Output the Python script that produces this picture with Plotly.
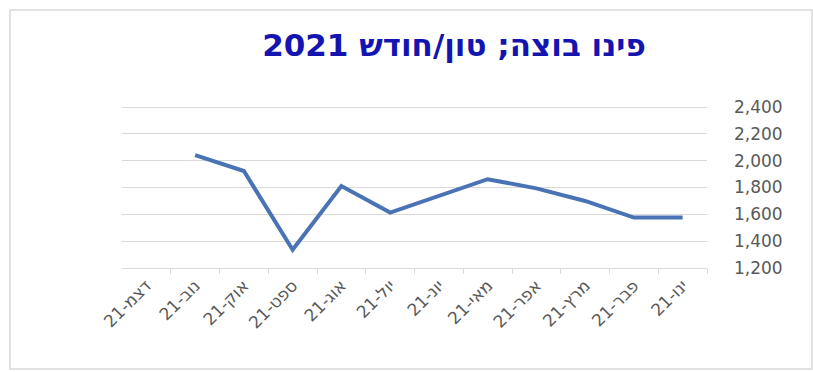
import plotly.graph_objects as go

# Monthly sludge removal, tonnes per month, 2021
months = ["ינו-21", "פבר-21", "מרץ-21", "אפר-21", "מאי-21", "יונ-21",
          "יול-21", "אוג-21", "ספט-21", "אוק-21", "נוב-21", "דצמ-21"]
tonnes = [1576, 1576, 1700, 1794, 1862, 1735, 1613, 1811, 1336, 1923, 2041, None]
y_ticks = [1200, 1400, 1600, 1800, 2000, 2200, 2400]

W, H = 813, 372
L, R, T, B = 122, 106, 106, 104
pw, ph = W - L - R, H - T - B


def px_x(p):
    return (p - L) / pw


def px_y(p):
    return (H - B - p) / ph


fig = go.Figure()
fig.add_trace(go.Scatter(
    x=months, y=tonnes, mode="lines",
    line=dict(color="#4A73B5", width=4),
    connectgaps=False, showlegend=False, hoverinfo="x+y",
))

fig.update_layout(
    width=W, height=H,
    margin=dict(l=L, r=R, t=T, b=B),
    paper_bgcolor="white", plot_bgcolor="white",
    title=dict(
        text="פינו בוצה; טון/חודש 2021",
        x=454 / W, xanchor="center", y=1 - 45 / H, yanchor="middle",
        font=dict(family="DejaVu Sans, sans-serif", size=31,
                  color="#1414B0", weight="bold"),
    ),
    xaxis=dict(
        type="category", range=[11.5, -0.5],
        showgrid=False, showline=True, linecolor="#D9D9D9", linewidth=1,
        ticks="outside", tickson="boundaries", ticklen=5, tickcolor="#D9D9D9",
        tickangle=-45,
        tickfont=dict(family="DejaVu Sans, sans-serif", size=17, color="#595959"),
    ),
    yaxis=dict(
        side="right", range=[1200, 2408], tickvals=y_ticks, tickformat=",",
        showgrid=True, gridcolor="#D9D9D9", gridwidth=1,
        zeroline=False, showline=False, ticks="",
        ticklabelstandoff=26,
        tickfont=dict(family="DejaVu Sans, sans-serif", size=17, color="#595959"),
    ),
    shapes=[dict(
        type="rect", xref="paper", yref="paper",
        x0=px_x(10), x1=px_x(812), y0=px_y(369), y1=px_y(10),
        line=dict(color="#D9D9D9", width=1.5), fillcolor="rgba(0,0,0,0)",
        layer="below",
    )],
)

fig.write_html("out.html")
